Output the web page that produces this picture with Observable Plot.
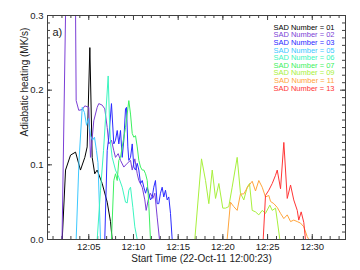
<!DOCTYPE html>
<html><head><meta charset="utf-8">
<script src="https://cdn.jsdelivr.net/npm/d3@7"></script>
<script src="https://cdn.jsdelivr.net/npm/@observablehq/plot@0.6"></script>
<style>html,body{margin:0;padding:0;background:#fff;}#chart{width:360px;height:270px;overflow:hidden;}</style>
</head><body><div id="chart"></div>
<script>
// Series identifiers and colours
const seriesNames = ["01","02","03","05","06","07","09","11","13"];
const seriesColors = ["#000000","#7b3fd6","#2a2aff","#3cc8ff","#3cf5c0","#3cf060","#a8f03c","#ffa53c","#ff3535"];

// Time in minutes after 12:00, value in MK/s
const t01 = [0.38, 2.03, 2.40, 2.96, 3.52, 4.07, 4.56, 4.82, 5.12, 5.38, 5.67, 5.94, 6.50, 7.06, 7.43, 7.62, 29.65];
const v01 = [0, 0, 0.093, 0.113, 0.117, 0.093, 0.110, 0.124, 0.257, 0.110, 0.088, 0.093, 0.075, 0.050, 0.024, 0, 0];

const t02 = [0.38, 2.01, 3.18, 3.59, 3.88, 4.27, 4.56, 5.00, 5.19, 5.56, 5.94, 6.12, 6.50, 6.79, 7.06, 7.24, 7.54, 7.80, 7.99, 8.29, 8.55, 8.92, 9.30, 9.67, 9.86, 10.15, 10.42, 10.60, 10.98, 11.27, 11.42, 11.65, 11.90, 12.16, 12.39, 12.65, 12.91, 29.65];
const v02 = [0, 0, 0.9, 0.186, 0.173, 0.174, 0.179, 0.177, 0.110, 0.159, 0.177, 0.182, 0.180, 0.175, 0.150, 0.128, 0.133, 0.119, 0.110, 0.115, 0.106, 0.097, 0.102, 0.106, 0.093, 0.108, 0.088, 0.079, 0.070, 0.053, 0.039, 0.053, 0.062, 0.055, 0.062, 0.030, 0, 0];

const t03 = [0.38, 6.79, 7.06, 7.24, 7.54, 7.80, 7.99, 8.18, 8.36, 8.55, 8.74, 8.92, 9.11, 9.22, 9.37, 9.48, 9.67, 9.86, 10.04, 10.23, 10.42, 10.60, 10.79, 10.98, 11.16, 11.35, 11.54, 11.71, 11.90, 12.10, 12.27, 12.46, 12.65, 12.83, 13.02, 13.21, 13.39, 13.58, 13.77, 13.95, 14.14, 14.33, 29.65];
const v03 = [0, 0, 0.119, 0.137, 0.182, 0.128, 0.133, 0.146, 0.128, 0.146, 0.110, 0.133, 0.175, 0.177, 0.124, 0.106, 0.110, 0.128, 0.097, 0.093, 0.102, 0.093, 0.075, 0.079, 0.070, 0.062, 0.070, 0.062, 0.053, 0.057, 0.070, 0.079, 0.048, 0.048, 0.062, 0.070, 0.057, 0.066, 0.053, 0.057, 0.035, 0, 0];

const t05 = [0.38, 3.59, 3.91, 4.27, 4.52, 4.75, 4.97, 5.19, 5.42, 5.64, 5.86, 6.03, 6.31, 29.65];
const v05 = [0, 0, 0.106, 0.177, 0.170, 0.153, 0.162, 0.139, 0.133, 0.137, 0.119, 0.103, 0, 0];

const t06 = [0.38, 5.94, 6.31, 6.65, 6.93, 7.17, 7.32, 7.43, 7.62, 7.99, 8.36, 8.74, 9.11, 9.30, 9.48, 9.67, 9.93, 10.15, 10.42, 29.65];
const v06 = [0, 0, 0.066, 0.119, 0.173, 0.219, 0.159, 0.129, 0.110, 0.093, 0.083, 0.070, 0.050, 0.049, 0.066, 0.070, 0.043, 0.017, 0, 0];

const t07 = [0.38, 7.54, 7.80, 7.99, 8.18, 8.36, 8.55, 8.74, 9.11, 9.48, 9.67, 9.86, 10.04, 10.23, 10.42, 10.60, 10.79, 10.98, 11.16, 11.35, 11.54, 11.71, 11.90, 29.65];
const v07 = [0, 0, 0.079, 0.088, 0.079, 0.106, 0.110, 0.124, 0.150, 0.186, 0.168, 0.142, 0.137, 0.139, 0.124, 0.106, 0.097, 0.093, 0.093, 0.088, 0.079, 0.048, 0, 0];

const t09 = [0.38, 16.86, 17.61, 18.06, 18.43, 18.81, 19.18, 19.55, 19.99, 20.29, 20.66, 21.04, 21.60, 21.97, 22.34, 22.72, 22.98, 23.28, 23.65, 24.02, 24.40, 24.77, 25.25, 25.52, 25.89, 26.08, 26.37, 29.65];
const v09 = [0, 0, 0.108, 0.079, 0.048, 0.093, 0.055, 0.075, 0.042, 0.042, 0.044, 0.070, 0.110, 0.062, 0.053, 0.070, 0.075, 0.039, 0.037, 0.033, 0.039, 0.035, 0.046, 0.039, 0.042, 0.026, 0, 0];

const t11 = [0.38, 20.48, 20.85, 21.22, 21.60, 21.97, 22.34, 22.76, 23.28, 23.65, 24.02, 24.40, 24.77, 25.14, 25.33, 25.70, 26.08, 26.45, 26.82, 27.20, 27.57, 27.93, 28.32, 28.68, 29.05, 29.43, 29.61, 29.65];
const v11 = [0, 0, 0.050, 0.044, 0.039, 0.061, 0.061, 0.070, 0.078, 0.065, 0.079, 0.070, 0.057, 0.059, 0.051, 0.048, 0.043, 0.035, 0.028, 0.033, 0.024, 0.026, 0.024, 0.022, 0.017, 0.004, 0, 0];

const t13 = [0.38, 24.51, 24.77, 25.14, 25.52, 25.89, 26.08, 26.45, 26.82, 27.20, 27.57, 27.93, 28.32, 28.49, 28.76, 29.05, 29.24, 29.65];
const v13 = [0, 0, 0.059, 0.066, 0.075, 0.086, 0.093, 0.068, 0.130, 0.055, 0.073, 0.053, 0.039, 0.026, 0.037, 0.023, 0, 0];

// Axis ticks and labels
const xMajor = [5, 10, 15, 20, 25, 30];
const xTickLabels = ["12:05", "12:10", "12:15", "12:20", "12:25", "12:30"];
const yMajor = [0, 0.1, 0.2, 0.3];
const yTickLabels = ["0.0", "0.1", "0.2", "0.3"];
const xDomain = [0.383, 33.717]; // 12:00:23 + 2000 s
const xTitle = "Start Time (22-Oct-11 12:00:23)";
const yTitle = "Adiabatic heating (MK/s)";
const panelLabel = "a)";

const times = [t01, t02, t03, t05, t06, t07, t09, t11, t13];
const values = [v01, v02, v03, v05, v06, v07, v09, v11, v13];

const xMinor = d3.range(1, 34);
const yMinor = d3.range(0, 31).map(i => i / 100);

const W = 360, H = 270, mL = 47, mR = 15, mT = 15, mB = 31;
const frameW = W - mL - mR, frameH = H - mT - mB;
const axisColor = "#404040";
const font = "'Liberation Sans', Arial, Helvetica, sans-serif";

const lineMarks = seriesNames.map((name, k) =>
  Plot.line(times[k].map((t, i) => ({t, v: values[k][i]})), {
    x: "t", y: "v", stroke: seriesColors[k], strokeWidth: 1, clip: true
  })
);

const legendMarks = seriesNames.map((name, k) =>
  Plot.text([`SAD Number = ${name}`], {
    frameAnchor: "top-right", text: d => d, textAnchor: "end", lineAnchor: "middle",
    dx: -11, dy: 12 + k * 7.58, fill: seriesColors[k], fontSize: 7.5
  })
);

// inward tick marks on all four sides
function xTicks(vals, len) {
  return [
    Plot.tickX(vals, {x: d => d, insetTop: frameH - len, stroke: axisColor}),
    Plot.tickX(vals, {x: d => d, insetBottom: frameH - len, stroke: axisColor})
  ];
}
function yTicks(vals, len) {
  return [
    Plot.tickY(vals, {y: d => d, insetRight: frameW - len, stroke: axisColor}),
    Plot.tickY(vals, {y: d => d, insetLeft: frameW - len, stroke: axisColor})
  ];
}

const fmtX = d => xTickLabels[xMajor.indexOf(d)];
const fmtY = d => yTickLabels[yMajor.indexOf(d)];

const chart = Plot.plot({
  width: W, height: H,
  marginLeft: mL, marginRight: mR, marginTop: mT, marginBottom: mB,
  x: {domain: xDomain},
  y: {domain: [0, 0.3]},
  style: {fontFamily: font, fontSize: "9.5px", background: "#fff", color: "#222"},
  marks: [
    ...xTicks(xMinor, 3), ...xTicks(xMajor, 5),
    ...yTicks(yMinor, 3), ...yTicks(yMajor, 5),
    ...lineMarks,
    Plot.frame({stroke: axisColor}),
    Plot.axisX({anchor: "bottom", ticks: xMajor, tickSize: 0, tickPadding: 4, tickFormat: fmtX, label: null}),
    Plot.axisY({anchor: "left", ticks: yMajor, tickSize: 0, tickPadding: 4, tickFormat: fmtY, label: null}),
    Plot.text([xTitle], {frameAnchor: "bottom", text: d => d, lineAnchor: "middle", dx: 5, dy: 19, fontSize: 10, fill: "#222"}),
    Plot.text([yTitle], {frameAnchor: "left", text: d => d, rotate: -90, lineAnchor: "middle", dx: -23, dy: 9, fontSize: 10, fill: "#222"}),
    Plot.text([panelLabel], {frameAnchor: "top-left", text: d => d, textAnchor: "start", lineAnchor: "top", dx: 5, dy: 13, fontSize: 11, fill: "#222"}),
    ...legendMarks
  ]
});
document.getElementById("chart").appendChild(chart);
</script>
</body></html>
